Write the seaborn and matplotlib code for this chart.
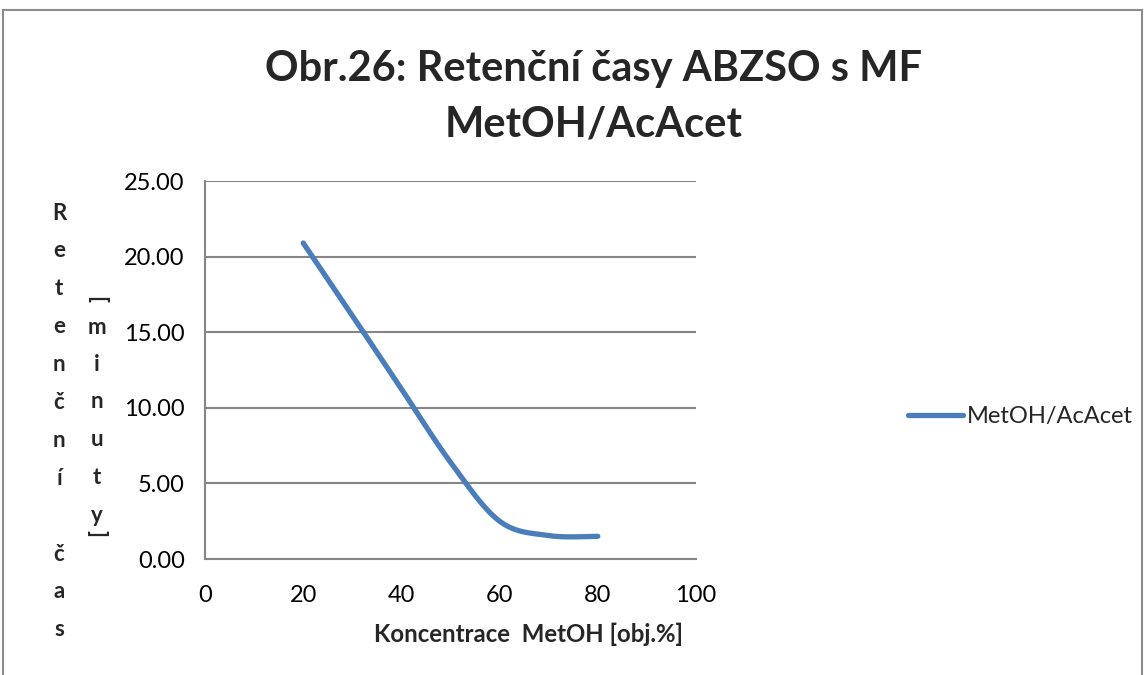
import numpy as np
import pandas as pd
import matplotlib
matplotlib.use("Agg")
import matplotlib.pyplot as plt
import seaborn as sns
from matplotlib.patches import Rectangle

# ---- data ----
konc = [20, 30, 40, 50, 60, 70, 80]
ret_cas = [20.9, 16.1, 11.25, 6.4, 2.5, 1.55, 1.5]
series_name = "MetOH/AcAcet"
title = "Obr.26: Retenční časy ABZSO s MF\nMetOH/AcAcet"
xlabel = "Koncentrace  MetOH [obj.%]"
ylabel_col1 = list("Retenční čas")
ylabel_col2 = list("[minuty]")
yticks = [0, 5, 10, 15, 20, 25]
xticks = [0, 20, 40, 60, 80, 100]

# Excel-like smoothed line (Catmull-Rom / Bezier through the data points)
def smooth(xs, ys, n=40):
    P = np.column_stack([xs, ys]).astype(float)
    out = []
    for i in range(len(P) - 1):
        p0 = P[i - 1] if i > 0 else P[i]
        p1, p2 = P[i], P[i + 1]
        p3 = P[i + 2] if i + 2 < len(P) else P[i + 1]
        c1 = p1 + (p2 - p0) / 6.0
        c2 = p2 - (p3 - p1) / 6.0
        t = np.linspace(0, 1, n, endpoint=(i == len(P) - 2))[:, None]
        seg = ((1 - t) ** 3) * p1 + 3 * ((1 - t) ** 2) * t * c1 + 3 * (1 - t) * t ** 2 * c2 + t ** 3 * p2
        out.append(seg)
    return np.vstack(out)

curve = smooth(konc, ret_cas)
df = pd.DataFrame({"x": curve[:, 0], "y": curve[:, 1], "s": series_name})

sns.set_style("white")
plt.rcParams["font.family"] = ["Lato", "DejaVu Sans"]

fig = plt.figure(figsize=(11.45, 6.75), dpi=100)
ax = fig.add_axes([205 / 1145, 1 - 559 / 675, (696 - 205) / 1145, (559 - 181) / 675])

grid_c = "#868686"
sns.lineplot(data=df, x="x", y="y", hue="s", palette=["#4a7ebb"], linewidth=3.8,
             sort=False, estimator=None, ax=ax, legend=True)
for ln in ax.get_lines():
    ln.set_solid_capstyle("round")

ax.set_xlim(0, 100)
ax.set_ylim(0, 25)
ax.set_xticks(xticks)
ax.set_yticks(yticks)
ax.set_yticklabels([f"{v:.2f}" for v in yticks])
ax.set_xticklabels([str(v) for v in xticks])
ax.tick_params(axis="both", labelsize=17, colors=grid_c, labelcolor="black",
               length=8, width=1.5, direction="out")
ax.tick_params(axis="y", pad=6.5)
ax.tick_params(axis="x", pad=10.5)
ax.yaxis.grid(True, color=grid_c, linewidth=1.5)
ax.xaxis.grid(False)
for s in ["top", "right"]:
    ax.spines[s].set_visible(False)
for s in ["left", "bottom"]:
    ax.spines[s].set_color(grid_c)
    ax.spines[s].set_linewidth(1.5)
ax.set_xlabel("")
ax.set_ylabel("")

# legend
old = ax.get_legend()
handles = old.legend_handles if old is not None else None
leg = ax.legend(handles=handles, labels=[series_name], loc="center left",
                bbox_to_anchor=(908 / 1145, 1 - 417 / 675), bbox_transform=fig.transFigure,
                frameon=False, fontsize=17, handlelength=2.35, handletextpad=0.15,
                borderaxespad=0, borderpad=0)
for h in leg.get_lines():
    h.set_linewidth(3.8)
    h.set_solid_capstyle("round")

# title
fig.text(594 / 1145, 1 - 97 / 675, title, ha="center", va="center",
         fontsize=30, fontweight="bold", linespacing=1.55)

# x label
fig.text(528 / 1145, 1 - 634 / 675, xlabel, ha="center", va="center",
         fontsize=17.3, fontweight="bold")

# stacked y label
for k, ch in enumerate(ylabel_col1):
    fig.text(59 / 1145, 1 - (213 + k * 37.9) / 675, ch, ha="center", va="center",
             fontsize=16, fontweight="bold")
col2_y = [300, 327, 364.5, 402, 440, 477, 515, 533]
for ch, yy in zip(ylabel_col2, col2_y):
    rot = -90 if ch in "[]" else 0
    fig.text(97 / 1145, 1 - yy / 675, ch, ha="center", va="center",
             fontsize=16, fontweight="bold", rotation=rot)

# outer border
fig.add_artist(Rectangle((3 / 1145, -0.05), (1142 - 3) / 1145, 1.05 - 10 / 675,
                         transform=fig.transFigure, fill=False, edgecolor="#8c8c8c",
                         linewidth=1.5))

fig.savefig("out.png", dpi=100)
